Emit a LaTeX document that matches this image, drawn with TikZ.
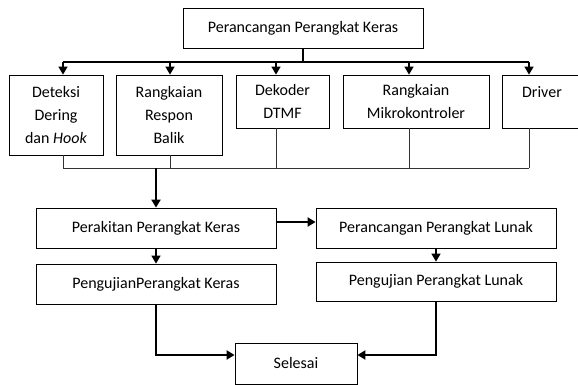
\documentclass[tikz,border=0pt]{standalone}
\usepackage{fontspec}
\setmainfont{Carlito}
\usetikzlibrary{arrows.meta}

\begin{document}
\begin{tikzpicture}[x=1pt,y=-1pt,font=\fontsize{16}{23}\selectfont]
\tikzstyle{kotak}=[rectangle,draw,line width=0.8pt,align=center,inner sep=0pt]
\tikzstyle{garis}=[line width=1.2pt]
\tikzstyle{tipis}=[line width=0.8pt,black!80]
\tikzstyle{panah}=[line width=1.6pt,-{Triangle[length=8pt,width=9pt]}]
\tikzstyle{tebal}=[line width=2.2pt,-{Triangle[length=8pt,width=9pt]}]
\useasboundingbox (0,0) rectangle (578,385);
\node [kotak,minimum width=240,minimum height=40] (ppk) at (303,28) {Perancangan Perangkat Keras};
\node [kotak,minimum width=94,minimum height=80] (deteksi) at (56,115) {Deteksi\\Dering\\dan \textit{Hook}};
\node [kotak,minimum width=106,minimum height=80] (respon) at (169,115) {Rangkaian\\Respon\\Balik};
\node [kotak,minimum width=93,minimum height=53] (dtmf) at (282.5,101.5) {Dekoder\\DTMF};
\node [kotak,minimum width=146,minimum height=53] (mikro) at (416,101.5) {Rangkaian\\Mikrokontroler};
\node [kotak,minimum width=80,minimum height=53,text height=11pt,text depth=18pt] (driver) at (542,101.5) {Driver};
\node [kotak,minimum width=240,minimum height=40] (rakit) at (156,228) {Perakitan Perangkat Keras};
\node [kotak,minimum width=240,minimum height=40] (pplunak) at (436,228) {Perancangan Perangkat Lunak};
\node [kotak,minimum width=240,minimum height=40] (ujikeras) at (156,284) {PengujianPerangkat Keras};
\node [kotak,minimum width=240,minimum height=39] (ujilunak) at (436,281.5) {Pengujian Perangkat Lunak};
\node [kotak,minimum width=122,minimum height=41] (selesai) at (296,363.5) {Selesai};
% cabang atas
\coordinate (b1) at (63,62);
\coordinate (b2) at (170,62);
\coordinate (b3) at (276,62);
\coordinate (b4) at (409,62);
\coordinate (b5) at (529,62);
\draw [garis] (ppk.south) -- (ppk.south |- b1);
\draw [garis] (b1) -- (b5);
\draw [panah] (b1) -- (b1 |- deteksi.north);
\draw [panah] (b2) -- (b2 |- respon.north);
\draw [panah] (b3) -- (b3 |- dtmf.north);
\draw [panah] (b4) -- (b4 |- mikro.north);
\draw [panah] (b5) -- (b5 |- driver.north);
% gabungan bawah
\coordinate (c0) at (156,168);
\coordinate (c1) at (63,168);
\coordinate (c2) at (170,168);
\coordinate (c3) at (276,168);
\coordinate (c4) at (409,168);
\coordinate (c5) at (529,168);
\draw [tipis] (c1 |- deteksi.south) -- (c1);
\draw [tipis] (c2 |- respon.south) -- (c2);
\draw [tipis] (c3 |- dtmf.south) -- (c3);
\draw [tipis] (c4 |- mikro.south) -- (c4);
\draw [tipis] (c5 |- driver.south) -- (c5);
\draw [tipis] (c1) -- (c5);
\draw [tebal] (c0) -- (rakit.north);
% alur bawah
\draw [tebal] ([yshift=6]rakit.east) -- ([yshift=6]pplunak.west);
\draw [panah] (rakit.south) -- (ujikeras.north);
\draw [panah] (pplunak.south) -- (ujilunak.north);
\draw [tebal] (ujikeras.south) |- ([yshift=8.5]selesai.west);
\draw [tebal] (ujilunak.south) |- ([yshift=8.5]selesai.east);
\end{tikzpicture}
\end{document}
